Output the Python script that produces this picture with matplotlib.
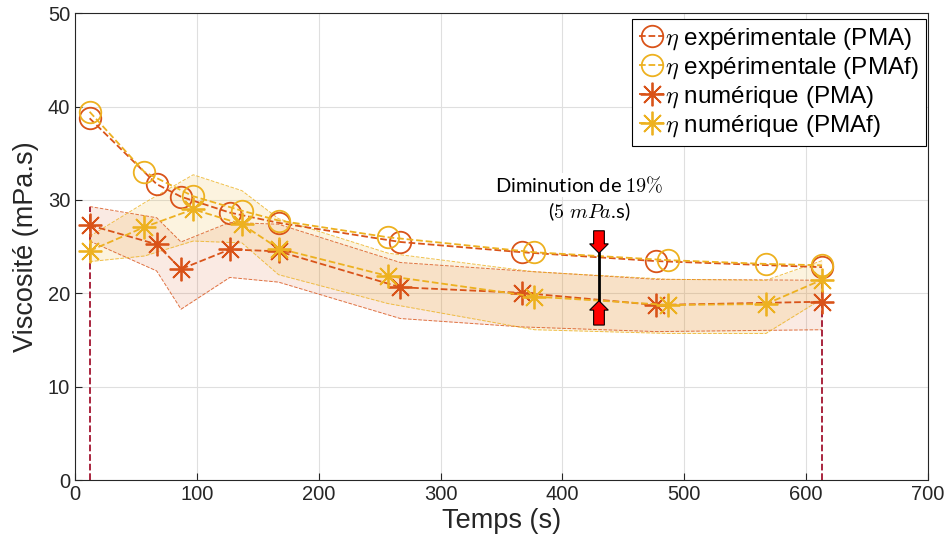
import matplotlib
matplotlib.use("Agg")
import matplotlib.pyplot as plt
from matplotlib.patches import FancyArrow
import numpy as np

plt.rcParams['font.family'] = ['Liberation Sans', 'DejaVu Sans']
plt.rcParams['mathtext.fontset'] = 'cm'

# ---- data ----
t_exp_pma = [12, 67, 87, 127, 167, 267, 367, 477, 613]
v_exp_pma = [38.75, 31.7, 30.35, 28.65, 27.55, 25.5, 24.4, 23.45, 22.8]
t_exp_pmaf = [12, 57, 97, 137, 167, 257, 377, 487, 567, 613]
v_exp_pmaf = [39.45, 33.0, 30.4, 28.85, 27.8, 26.0, 24.4, 23.55, 23.15, 23.0]

t_num_pma = [12, 67, 87, 127, 167, 267, 367, 477, 613]
v_num_pma = [27.3, 25.25, 22.6, 24.7, 24.5, 20.65, 20.05, 18.75, 19.1]
up_num_pma = [29.3, 28.1, 25.5, 27.6, 27.4, 23.3, 22.4, 21.5, 21.4]
lo_num_pma = [25.6, 22.4, 18.3, 21.7, 21.2, 17.3, 16.4, 15.9, 16.1]

t_num_pmaf = [12, 57, 97, 137, 167, 257, 377, 487, 567, 613]
v_num_pmaf = [24.55, 27.1, 29.0, 27.4, 24.8, 21.85, 19.65, 18.75, 18.85, 21.45]
up_num_pmaf = [26.1, 29.7, 32.7, 31.0, 28.0, 24.3, 22.3, 21.5, 21.4, 23.5]
lo_num_pmaf = [23.4, 24.0, 25.6, 25.4, 22.0, 18.9, 16.1, 15.7, 15.7, 19.4]

labels = [r'$\eta$ expérimentale (PMA)', r'$\eta$ expérimentale (PMAf)',
          r'$\eta$ numérique (PMA)', r'$\eta$ numérique (PMAf)']

RED = '#D95319'
YEL = '#EDB120'
CRIM = '#A2142F'

fig = plt.figure(figsize=(9.49, 5.54), dpi=100)
ax = fig.add_axes([75/949, 1-480/554, (928-75)/949, (480-13.3)/554])

# bands
ax.fill_between(t_num_pma, lo_num_pma, up_num_pma, color=RED, alpha=0.12, lw=0)
ax.plot(t_num_pma, up_num_pma, ls='--', color=RED, lw=0.7, alpha=0.8)
ax.plot(t_num_pma, lo_num_pma, ls='--', color=RED, lw=0.7, alpha=0.8)
ax.fill_between(t_num_pmaf, lo_num_pmaf, up_num_pmaf, color=YEL, alpha=0.14, lw=0)
ax.plot(t_num_pmaf, up_num_pmaf, ls='--', color=YEL, lw=0.7, alpha=0.8)
ax.plot(t_num_pmaf, lo_num_pmaf, ls='--', color=YEL, lw=0.7, alpha=0.8)

# vertical dashed lines
for i in (0, -1):
    ax.plot([t_num_pma[i], t_num_pma[i]], [0, up_num_pma[i]], ls='--', color=CRIM, lw=1.3)

# series
ax.plot(t_exp_pma, v_exp_pma, ls='--', color=RED, lw=1.3, marker='o', ms=15.5,
        mfc='none', mec=RED, mew=1.3, label=labels[0])
ax.plot(t_exp_pmaf, v_exp_pmaf, ls='--', color=YEL, lw=1.3, marker='o', ms=15.5,
        mfc='none', mec=YEL, mew=1.3, label=labels[1])
ax.plot(t_num_pma, v_num_pma, ls='--', color=RED, lw=1.3, marker=(8, 2, 0), ms=17,
        mec=RED, mew=1.3, label=labels[2])
ax.plot(t_num_pmaf, v_num_pmaf, ls='--', color=YEL, lw=1.3, marker=(8, 2, 0), ms=17,
        mec=YEL, mew=1.3, label=labels[3])

# annotation
xa = 430
ax.plot([xa, xa], [24.3, 19.2], color='black', lw=2, zorder=5)
ax.add_patch(FancyArrow(xa, 26.7, 0, -2.4, width=8.8, head_width=15.3, head_length=1.0,
                        length_includes_head=True, fc='#FF0000', ec='black', lw=0.8, zorder=6))
ax.add_patch(FancyArrow(xa, 16.6, 0, 2.6, width=8.8, head_width=15.3, head_length=1.0,
                        length_includes_head=True, fc='#FF0000', ec='black', lw=0.8, zorder=6))
ax.text(414, 31.6, r'Diminution de $19\%$', ha='center', va='center', fontsize=14.5,
        family=['Lato', 'DejaVu Sans'], color='black',
        bbox=dict(fc='white', ec='none', pad=1.0), zorder=4)
ax.text(421.6, 28.8, r'($5\ mPa$.s)', ha='center', va='center', fontsize=14.5,
        family=['Lato', 'DejaVu Sans'], color='black', zorder=4)

ax.set_xlim(0, 700)
ax.set_ylim(0, 50)
ax.set_xticks(np.arange(0, 701, 100))
ax.set_yticks(np.arange(0, 51, 10))
ax.grid(True, color='#DFDFDF', lw=0.8)
ax.set_axisbelow(True)
ax.tick_params(direction='in', length=5, labelsize=14.5, colors='#262626',
               top=False, right=False)
for s in ax.spines.values():
    s.set_color('#262626')
    s.set_linewidth(0.8)
ax.set_xlabel('Temps (s)', fontsize=19.5, color='#262626', labelpad=3)
ax.set_ylabel('Viscosité (mPa.s)', fontsize=19.5, color='#262626', labelpad=6)

leg = ax.legend(loc='upper right', bbox_to_anchor=(926/949, 1-19/554),
                bbox_transform=fig.transFigure, borderaxespad=0, fontsize=17.5,
                handlelength=1.0, handletextpad=0.05, labelspacing=0.13,
                borderpad=0.3, fancybox=False, framealpha=1, edgecolor='black')
leg.get_frame().set_linewidth(0.8)

fig.savefig('out.png', dpi=100)
